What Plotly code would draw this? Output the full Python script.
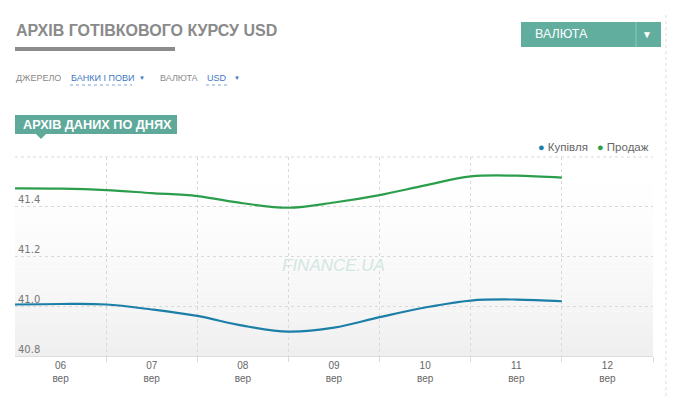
import plotly.graph_objects as go

# ---- data ----
dates = [
    "2025-09-06 00:00", "2025-09-06 12:00", "2025-09-07 00:00", "2025-09-07 12:00",
    "2025-09-08 00:00", "2025-09-08 12:00", "2025-09-09 00:00", "2025-09-09 12:00",
    "2025-09-10 00:00", "2025-09-10 12:00", "2025-09-11 00:00", "2025-09-11 12:00",
    "2025-09-12 00:00",
]
buy = [41.007, 41.009, 41.007, 40.987, 40.961, 40.922, 40.898, 40.914,
       40.956, 40.995, 41.023, 41.027, 41.020]
sell = [41.474, 41.473, 41.467, 41.455, 41.443, 41.414, 41.396, 41.417,
        41.447, 41.486, 41.522, 41.525, 41.517]
tick_dates = ["2025-09-06 12:00", "2025-09-07 12:00", "2025-09-08 12:00",
              "2025-09-09 12:00", "2025-09-10 12:00", "2025-09-11 12:00",
              "2025-09-12 12:00"]
tick_text = ["06<br>вер", "07<br>вер", "08<br>вер", "09<br>вер",
             "10<br>вер", "11<br>вер", "12<br>вер"]
y_ticks = [40.8, 41.0, 41.2, 41.4, 41.6]
y_ticktext = ["40.8", "41.0", "41.2", "41.4", ""]
series_names = ["Купівля", "Продаж"]
colors = ["#1b7fa8", "#2b9e4c"]

fig = go.Figure()
fig.add_trace(go.Scatter(x=dates, y=buy, mode="lines",
                         line=dict(color=colors[0], width=2.2, shape="spline", smoothing=1.0),
                         showlegend=False, name=series_names[0]))
fig.add_trace(go.Scatter(x=dates, y=sell, mode="lines",
                         line=dict(color=colors[1], width=2.2, shape="spline", smoothing=1.0),
                         showlegend=False, name=series_names[1]))

# page-pixel -> paper coordinate helpers (plot area spans page x 15..653, y 157..356)
def px(x):
    return (x - 15) / 638
def py(y):
    return (356 - y) / 199

GRID = "#d9d9d9"
GDASH = "3px,3px"

shapes = []
# gradient background of the plot area
N = 40
for i in range(N):
    t0 = i / N
    t1 = (i + 1) / N
    tm = 1 - (t0 + t1) / 2  # 0 at top, 1 at bottom
    g = int(round(255 - 16 * (tm ** 1.6)))
    shapes.append(dict(type="rect", xref="x domain", yref="y domain", x0=0, x1=1, y0=t0, y1=t1,
                       fillcolor=f"rgb({g},{g},{g})", line=dict(width=0), layer="below"))
# top dashed border of plot area
shapes.append(dict(type="line", xref="x domain", yref="y domain", x0=0, x1=1, y0=1, y1=1,
                   line=dict(color=GRID, width=1, dash=GDASH), layer="below"))
# header underline bar
shapes.append(dict(type="rect", xref="paper", yref="paper", x0=px(15), x1=px(175), y0=py(51), y1=py(47),
                   fillcolor="#8c8c8c", line=dict(width=0)))
# currency button
shapes.append(dict(type="rect", xref="paper", yref="paper", x0=px(521), x1=px(661), y0=py(47), y1=py(22),
                   fillcolor="#61ae9f", line=dict(width=0)))
shapes.append(dict(type="line", xref="paper", yref="paper", x0=px(636), x1=px(636), y0=py(47), y1=py(22),
                   line=dict(color="#8cc6bb", width=1)))
# tab
shapes.append(dict(type="rect", xref="paper", yref="paper", x0=px(15), x1=px(177), y0=py(134), y1=py(115),
                   fillcolor="#5fa99b", line=dict(width=0)))
shapes.append(dict(type="path", xref="paper", yref="paper",
                   path=f"M {px(36)} {py(134)} L {px(46)} {py(134)} L {px(41)} {py(139)} Z",
                   fillcolor="#5fa99b", line=dict(width=0)))
# dotted underlines of selectors
shapes.append(dict(type="line", xref="paper", yref="paper", x0=px(70), x1=px(132), y0=py(85), y1=py(85),
                   line=dict(color="#7fa6d6", width=1, dash="dot")))
shapes.append(dict(type="line", xref="paper", yref="paper", x0=px(206), x1=px(228), y0=py(85), y1=py(85),
                   line=dict(color="#7fa6d6", width=1, dash="dot")))
# right dotted divider
shapes.append(dict(type="line", xref="paper", yref="paper", x0=px(666), x1=px(666), y0=py(396), y1=py(15),
                   line=dict(color="#dddddd", width=1, dash="dot")))
fig.update_layout(shapes=shapes)

def ann(x, y, text, size, color, bold=False, xanchor="left",
        family="Liberation Sans, Arial, sans-serif", style="normal"):
    fig.add_annotation(xref="paper", yref="paper", x=px(x), y=py(y), text=(f"<b>{text}</b>" if bold else text),
                       showarrow=False, xanchor=xanchor, yanchor="middle", xshift=-1,
                       font=dict(size=size, color=color, family=family, style=style))

ann(15, 30, "АРХІВ ГОТІВКОВОГО КУРСУ USD", 16, "#8a8a8a", bold=True)
ann(15, 78, "ДЖЕРЕЛО", 9, "#8a8a8a")
ann(70, 78, "БАНКИ І ПОВИ", 9, "#3e78c2")
ann(143, 78, "▼", 6, "#3e78c2", xanchor="center")
ann(159, 78, "ВАЛЮТА", 9, "#8a8a8a")
ann(206, 78, "USD", 9, "#3e78c2")
ann(238, 78, "▼", 6, "#3e78c2", xanchor="center")
ann(534, 34, "ВАЛЮТА", 12.5, "#ffffff")
ann(648, 34, "▼", 10, "#ffffff", xanchor="center")
ann(22, 125, "АРХІВ ДАНИХ ПО ДНЯХ", 12.7, "#ffffff", bold=True)
ann(334, 265, "FINANCE.UA", 17, "#d3e6e2", xanchor="center", style="italic")
# legend
ann(537, 147, f"<span style='color:{colors[0]};font-size:11px'>●</span> {series_names[0]}", 11.5, "#666666")
ann(596, 147, f"<span style='color:{colors[1]};font-size:11px'>●</span> {series_names[1]}", 11.5, "#666666")

# figure is placed at (8, 8) in the page (default body margin), so size/margins are offset by 8px
fig.update_layout(
    width=669, height=388,
    margin=dict(l=7, r=24, t=149, b=40, autoexpand=False),
    paper_bgcolor="white", plot_bgcolor="white",
    showlegend=False,
    font=dict(family="Liberation Sans, Arial, sans-serif", color="#666666"),
    xaxis=dict(type="date", range=["2025-09-06", "2025-09-13"], tickvals=tick_dates, ticktext=tick_text,
               showgrid=False, ticks="", tickfont=dict(size=10, color="#666666"),
               showline=True, linecolor="#dddddd", linewidth=1, zeroline=False,
               minor=dict(dtick=86400000, tick0="2025-09-06", showgrid=True, gridcolor=GRID,
                          griddash=GDASH, gridwidth=1, ticks="outside", ticklen=5, tickcolor=GRID)),
    yaxis=dict(range=[40.8, 41.6], tickvals=y_ticks, ticktext=y_ticktext, ticklabelposition="inside top",
               showgrid=True, gridcolor=GRID, griddash=GDASH, gridwidth=1, zeroline=False,
               tickfont=dict(size=10, color="#777777", family="DejaVu Sans"), ticks="", showline=False),
)

fig.write_html("out.html")
